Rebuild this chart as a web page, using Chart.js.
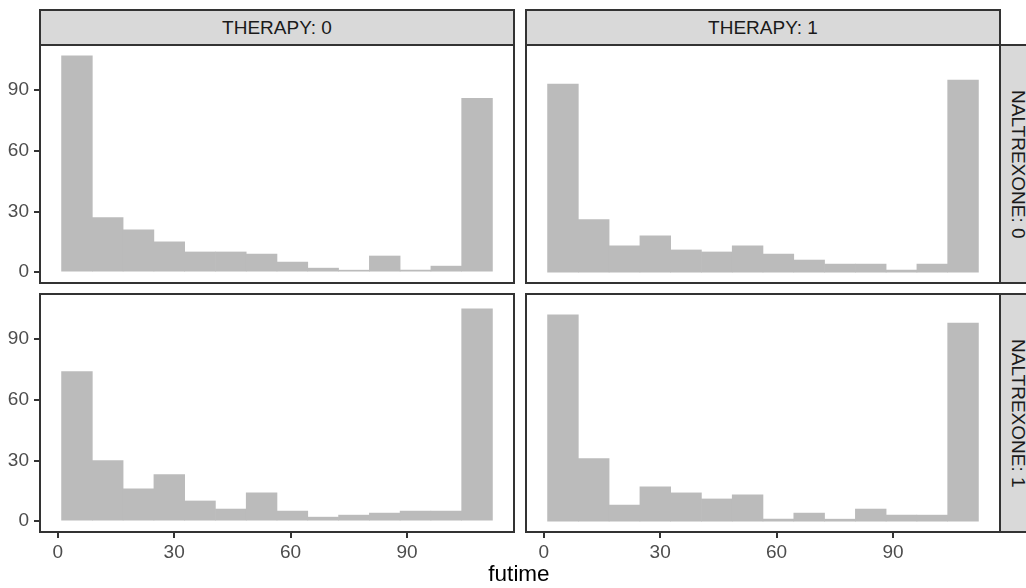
<!DOCTYPE html>
<html>
<head>
<meta charset="utf-8">
<title>futime histograms</title>
<script src="https://cdn.jsdelivr.net/npm/chart.js@4.4.1/dist/chart.umd.min.js"></script>
<style>
  html, body { margin: 0; padding: 0; background: #fff; }
  #figure {
    position: relative;
    width: 1026px;
    height: 588px;
    overflow: hidden;
    font-family: "Liberation Sans", Arial, sans-serif;
  }
  #figure canvas { position: absolute; }
  .strip {
    position: absolute;
    box-sizing: border-box;
    background: #d9d9d9;
    border: 2px solid #333;
    color: #1a1a1a;
    font-size: 19px;
    display: flex;
    align-items: center;
    justify-content: center;
    white-space: nowrap;
  }
  .strip.row { writing-mode: vertical-rl; }
  #x-title {
    position: absolute;
    left: 0;
    width: 1038px;
    top: 563px;
    text-align: center;
    font-size: 22.5px;
    line-height: 22.5px;
    color: #000;
  }
</style>
</head>
<body>
<div id="figure">
  <canvas id="panel-00" width="516" height="241" style="left:0;top:44px"></canvas>
  <canvas id="panel-10" width="478" height="241" style="left:524px;top:44px"></canvas>
  <canvas id="panel-01" width="516" height="270" style="left:0;top:293px"></canvas>
  <canvas id="panel-11" width="478" height="270" style="left:524px;top:293px"></canvas>

  <div class="strip" id="strip-col-0" style="left:39px;top:9px;width:476px;height:37px"></div>
  <div class="strip" id="strip-col-1" style="left:525px;top:9px;width:476px;height:37px"></div>
  <div class="strip row" id="strip-row-0" style="left:999px;top:44px;width:37px;height:240px"></div>
  <div class="strip row" id="strip-row-1" style="left:999px;top:293px;width:37px;height:240px"></div>

  <div id="x-title"></div>
</div>

<script>
// histogram bins (left edge of each bin, futime)
const binStarts = [1.00, 8.93, 16.86, 24.79, 32.71, 40.64, 48.57, 56.50, 64.43, 72.36, 80.29, 88.21, 96.14, 104.07]
const binWidth = 7.93

// counts per facet
const countsTherapy0Nal0 = [107, 27, 21, 15, 10, 10, 9, 5, 2, 1, 8, 1, 3, 86]
const countsTherapy1Nal0 = [93, 26, 13, 18, 11, 10, 13, 9, 6, 4, 4, 1, 4, 95]
const countsTherapy0Nal1 = [74, 30, 16, 23, 10, 6, 14, 5, 2, 3, 4, 5, 5, 105]
const countsTherapy1Nal1 = [102, 31, 8, 17, 14, 11, 13, 1, 4, 1, 6, 3, 3, 98]

const xTicks = [0, 30, 60, 90]
const yTicks = [0, 30, 60, 90]
const therapyLabels = ["THERAPY: 0", "THERAPY: 1"]
const naltrexoneLabels = ["NALTREXONE: 0", "NALTREXONE: 1"]
const xTitle = "futime"

document.addEventListener("DOMContentLoaded", () => {
  Chart.defaults.font.family = '"Liberation Sans", Arial, sans-serif'

  document.getElementById("strip-col-0").textContent = therapyLabels[0]
  document.getElementById("strip-col-1").textContent = therapyLabels[1]
  document.getElementById("strip-row-0").textContent = naltrexoneLabels[0]
  document.getElementById("strip-row-1").textContent = naltrexoneLabels[1]
  document.getElementById("x-title").textContent = xTitle

  // ggplot-style expanded ranges (5% each side)
  const xMin = -4.55
  const xMax = 117.55
  const yMin = -5.35
  const yMax = 112.35

  const barColor = "#bbbbbb"
  const inkColor = "#333333"

  // panel frame drawn over the plot area
  const panelBorder = {
    id: "panelBorder",
    afterDraw(chart) {
      const { ctx, chartArea } = chart
      ctx.save()
      ctx.strokeStyle = inkColor
      ctx.lineWidth = 2
      ctx.strokeRect(chartArea.left, chartArea.top, chartArea.right - chartArea.left, chartArea.bottom - chartArea.top)
      ctx.restore()
    },
  }

  // drop the label overhang padding so the plot area stays where we put it
  function noOverhang(axis) {
    axis.paddingLeft = 0
    axis.paddingRight = 0
    axis.paddingTop = 0
    axis.paddingBottom = 0
  }

  function makePanel(id, counts, showX, showY, padding) {
    const canvas = document.getElementById(id)
    return new Chart(canvas, {
      type: "bar",
      data: {
        datasets: [
          {
            data: binStarts.map((start, i) => ({ x: start + binWidth / 2, y: counts[i] })),
            backgroundColor: barColor,
            borderWidth: 0,
            barPercentage: 1,
            categoryPercentage: 1,
          },
        ],
      },
      options: {
        responsive: false,
        animation: false,
        events: [],
        layout: { padding },
        plugins: {
          legend: { display: false },
          tooltip: { enabled: false },
        },
        scales: {
          x: {
            type: "linear",
            display: showX,
            min: xMin,
            max: xMax,
            offset: false,
            border: { display: false },
            grid: {
              offset: false,
              drawOnChartArea: false,
              drawTicks: true,
              tickLength: 6,
              color: inkColor,
              lineWidth: 2,
            },
            ticks: {
              color: "#4d4d4d",
              font: { size: 19 },
              padding: 3,
              maxRotation: 0,
            },
            afterBuildTicks: (axis) => {
              axis.ticks = xTicks.map((v) => ({ value: v }))
            },
            afterFit: (axis) => {
              axis.height = showX ? 31 : 0
              noOverhang(axis)
            },
          },
          y: {
            display: showY,
            min: yMin,
            max: yMax,
            border: { display: false },
            grid: {
              drawOnChartArea: false,
              drawTicks: true,
              tickLength: 6,
              color: inkColor,
              lineWidth: 2,
            },
            ticks: {
              color: "#4d4d4d",
              font: { size: 19 },
              padding: 5,
            },
            afterBuildTicks: (axis) => {
              axis.ticks = yTicks.map((v) => ({ value: v }))
            },
            afterFit: (axis) => {
              axis.width = showY ? 40 : 0
              noOverhang(axis)
            },
          },
        },
      },
      plugins: [panelBorder],
    })
  }

  makePanel("panel-00", countsTherapy0Nal0, false, true, { left: 0, right: 2, top: 1, bottom: 2 })
  makePanel("panel-10", countsTherapy1Nal0, false, false, { left: 2, right: 2, top: 1, bottom: 2 })
  makePanel("panel-01", countsTherapy0Nal1, true, true, { left: 0, right: 2, top: 1, bottom: 0 })
  makePanel("panel-11", countsTherapy1Nal1, true, false, { left: 2, right: 2, top: 1, bottom: 0 })
})
</script>
</body>
</html>
